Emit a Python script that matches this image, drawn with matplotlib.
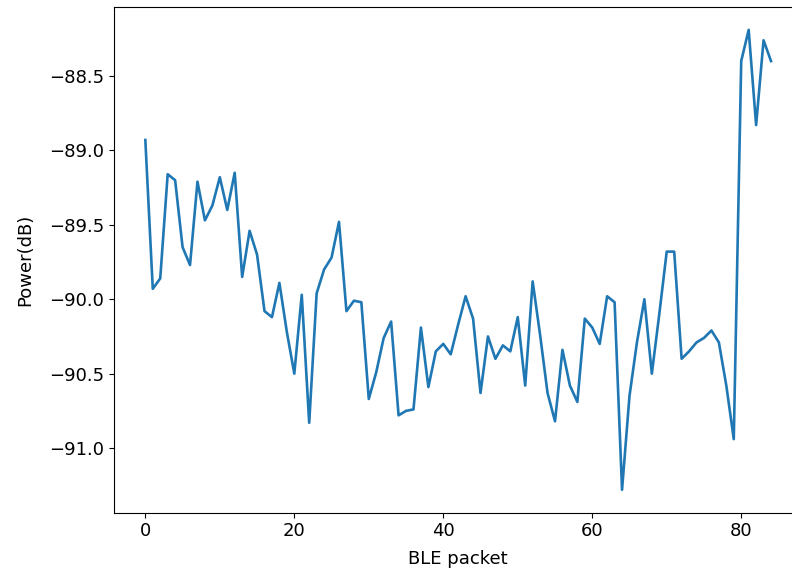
import matplotlib
matplotlib.use("Agg")
import matplotlib.pyplot as plt
import numpy as np

# received power per BLE packet (dB)
power_db = [
    -88.93, -89.93, -89.86, -89.16, -89.20, -89.65, -89.77, -89.21, -89.47, -89.37,
    -89.18, -89.40, -89.15, -89.85, -89.54, -89.70, -90.08, -90.12, -89.89, -90.22,
    -90.50, -89.97, -90.83, -89.96, -89.80, -89.72, -89.48, -90.08, -90.01, -90.02,
    -90.67, -90.49, -90.26, -90.15, -90.78, -90.75, -90.74, -90.19, -90.59, -90.35,
    -90.30, -90.37, -90.17, -89.98, -90.13, -90.63, -90.25, -90.40, -90.31, -90.35,
    -90.12, -90.58, -89.88, -90.24, -90.63, -90.82, -90.34, -90.58, -90.69, -90.13,
    -90.19, -90.30, -89.98, -90.02, -91.28, -90.65, -90.29, -90.00, -90.50, -90.10,
    -89.68, -89.68, -90.40, -90.35, -90.29, -90.26, -90.21, -90.29, -90.58, -90.94,
    -88.40, -88.19, -88.83, -88.26, -88.40,
]
packets = np.arange(len(power_db))

plt.rcParams.update({'font.size': 13})
fig, ax = plt.subplots(figsize=(7.92, 5.71), dpi=100)
# the original screenshot is cut off just left of the right spine
fig.subplots_adjust(left=0.144, right=1.013, top=0.988, bottom=0.102)

ax.plot(packets, power_db, color='#1f77b4', linewidth=1.9)
ax.set_xlabel('BLE packet', labelpad=7)
ax.set_ylabel('Power(dB)', labelpad=11)

fig.savefig('out.png', dpi=100)
